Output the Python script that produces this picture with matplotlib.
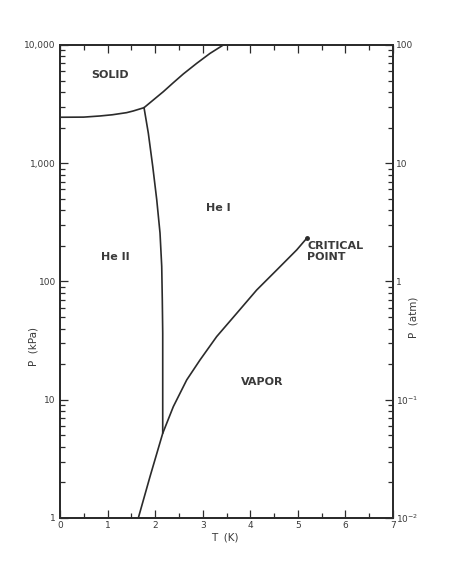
import matplotlib.pyplot as plt
from matplotlib.ticker import FixedLocator, FixedFormatter, LogLocator, NullFormatter, MultipleLocator

# curves (T in K, P in kPa)
melt_T = [0.0, 0.5, 0.84, 1.10, 1.40, 1.54, 1.766]
melt_P = [2448, 2455, 2510, 2570, 2678, 2767, 2951]

solid_T = [1.766, 1.961, 2.172, 2.382, 2.592, 2.874, 3.153, 3.433]
solid_P = [2951, 3428, 4030, 4800, 5690, 7000, 8490, 10000]

lambda_T = [1.766, 1.856, 1.949, 2.033, 2.102, 2.138, 2.150, 2.159, 2.159]
lambda_P = [2951, 1799, 940, 492, 257, 134, 70, 36.6, 5.2]

vapor_T = [1.646, 1.892, 2.159, 2.382, 2.663, 2.943, 3.293, 3.714, 4.134, 4.555, 4.976, 5.186]
vapor_P = [1.0, 2.24, 5.2, 8.75, 14.7, 21.7, 34.2, 53.8, 84.7, 125, 185, 232]

x_ticks = [0, 1, 2, 3, 4, 5, 6, 7]
kpa_ticks = [1, 10, 100, 1000, 10000]
kpa_labels = ["1", "10", "100", "1,000", "10,000"]
atm_ticks = [0.01, 0.1, 1, 10, 100]
atm_labels = ["10$^{-2}$", "10$^{-1}$", "1", "10", "100"]

ink = "#2b2b2b"
txt = "#3a3a3a"

fig = plt.figure(figsize=(4.55, 5.79), dpi=100)
ax = fig.add_axes([0.1319, 0.1054, 0.7319, 0.8169])

for T, P in [(melt_T, melt_P), (solid_T, solid_P), (lambda_T, lambda_P), (vapor_T, vapor_P)]:
    ax.plot(T, P, color=ink, lw=1.2, solid_capstyle="round", solid_joinstyle="round")
ax.plot([vapor_T[-1]], [vapor_P[-1]], "o", color=ink, ms=2.5)

ax.set_yscale("log")
ax.set_xlim(0, 7)
ax.set_ylim(1, 10000)

ax.xaxis.set_major_locator(FixedLocator(x_ticks))
ax.xaxis.set_minor_locator(MultipleLocator(0.5))
ax.yaxis.set_major_locator(FixedLocator(kpa_ticks))
ax.yaxis.set_major_formatter(FixedFormatter(kpa_labels))
ax.yaxis.set_minor_locator(LogLocator(base=10, subs=range(2, 10)))
ax.yaxis.set_minor_formatter(NullFormatter())
ax.tick_params(which="both", direction="in", top=True, colors=ink, labelcolor=txt,
               labelsize=6.5, width=0.9)
ax.tick_params(which="major", length=6, pad=3)
ax.tick_params(which="minor", length=3.5)
ax.tick_params(axis="x", pad=2)

ax2 = ax.twinx()
ax2.set_yscale("log")
ax2.set_ylim(0.01, 100)
ax2.yaxis.set_major_locator(FixedLocator(atm_ticks))
ax2.yaxis.set_major_formatter(FixedFormatter(atm_labels))
ax2.yaxis.set_minor_locator(LogLocator(base=10, subs=range(2, 10)))
ax2.yaxis.set_minor_formatter(NullFormatter())
ax2.tick_params(which="both", direction="in", colors=ink, labelcolor=txt, labelsize=6.5, width=0.9)
ax2.tick_params(which="major", length=6, pad=2)
ax2.tick_params(which="minor", length=3.5)

for a in (ax, ax2):
    for s in a.spines.values():
        s.set_color(ink)
        s.set_linewidth(1.3)

lab = dict(color=txt, fontsize=8, fontweight="bold", ha="center", va="center")
ax.text(1.05, 5575, "SOLID", **lab)
ax.text(3.32, 418, "He I", **lab)
ax.text(1.16, 161, "He II", **lab)
ax.text(4.24, 14.0, "VAPOR", **lab)
ax.text(5.2, 178, "CRITICAL\nPOINT", color=txt, fontsize=8, fontweight="bold",
        ha="left", va="center", linespacing=1.15)

fig.text(225 / 455, 1 - 537 / 579, "T  (K)", color=txt, fontsize=7.5, ha="center", va="center")
fig.text(33 / 455, 1 - 347 / 579, "P  (kPa)", color=txt, fontsize=7.5, rotation=90,
         ha="center", va="center")
fig.text(413 / 455, 1 - 317 / 579, "P  (atm)", color=txt, fontsize=7.5, rotation=90,
         ha="center", va="center")

fig.savefig("out.png", dpi=100, facecolor="white")
